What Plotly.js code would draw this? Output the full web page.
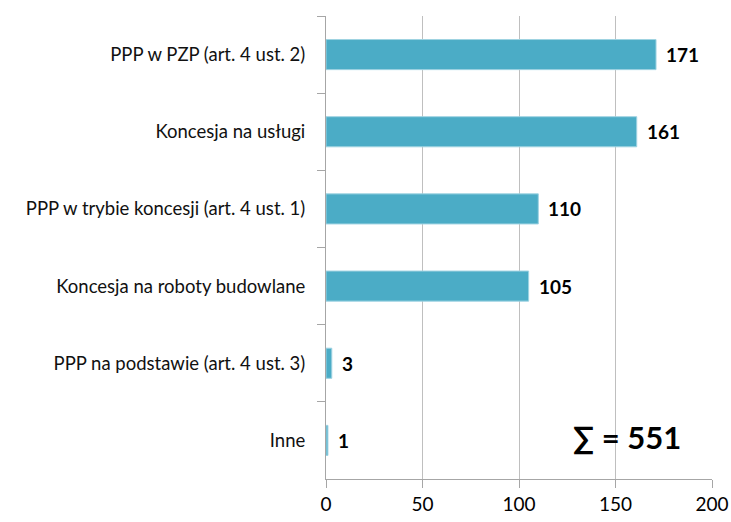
<!DOCTYPE html>
<html><head><meta charset="utf-8">
<script src="https://cdn.plot.ly/plotly-3.0.1.min.js"></script>
<style>html,body{margin:0;padding:0;background:#fff}#chart{width:731px;height:522px}</style>
</head><body><div id="chart"></div>
<script>
const categories = ["PPP w PZP (art. 4 ust. 2)", "Koncesja na usługi", "PPP w trybie koncesji (art. 4 ust. 1)", "Koncesja na roboty budowlane", "PPP na podstawie (art. 4 ust. 3)", "Inne"];
const values = [171, 161, 110, 105, 3, 1];
const xTicks = [0, 50, 100, 150, 200];
const totalLabel = "∑ = 551";

const FONT = "Lato, 'Open Sans', sans-serif";
const annotations = values.map((v, i) => ({
  x: v, y: categories[i], xref: "x", yref: "y", text: "<b>" + v + "</b>",
  showarrow: false, xanchor: "left", xshift: 8,
  font: {family: FONT, size: 19, color: "#000"}
}));
annotations.push({
  x: 0.78, y: 0.09, xref: "paper", yref: "paper", text: "<b>" + totalLabel + "</b>",
  showarrow: false, xanchor: "center", yanchor: "middle",
  font: {family: FONT, size: 31, color: "#000"}
});

Plotly.newPlot("chart", [{
  type: "bar", orientation: "h", x: values, y: categories,
  marker: {color: "#4BACC6", line: {color: "#9FD3E2", width: 1}},
  hoverinfo: "none"
}], {
  width: 731, height: 522,
  margin: {l: 326, r: 19, t: 16, b: 43},
  paper_bgcolor: "#fff", plot_bgcolor: "#fff",
  bargap: 0.61,
  showlegend: false,
  font: {family: FONT, color: "#000"},
  xaxis: {
    range: [0, 200], tickvals: xTicks, ticktext: xTicks.map(String),
    showgrid: true, gridcolor: "#BFBFBF", gridwidth: 1,
    zeroline: false, showline: true, linecolor: "#A6A6A6", linewidth: 1,
    ticks: "outside", ticklen: 8, tickcolor: "#A6A6A6",
    tickfont: {family: FONT, size: 19, color: "#000"}, fixedrange: true
  },
  yaxis: {
    type: "category", autorange: "reversed",
    showgrid: false, zeroline: false, showline: true, linecolor: "#A6A6A6", linewidth: 1,
    ticks: "outside", ticklen: 8, tickcolor: "#A6A6A6", tickson: "boundaries",
    tickfont: {family: FONT, size: 18.5, color: "#111"}, ticklabelstandoff: 16, fixedrange: true
  },
  annotations: annotations
}, {staticPlot: true});
</script></body></html>
